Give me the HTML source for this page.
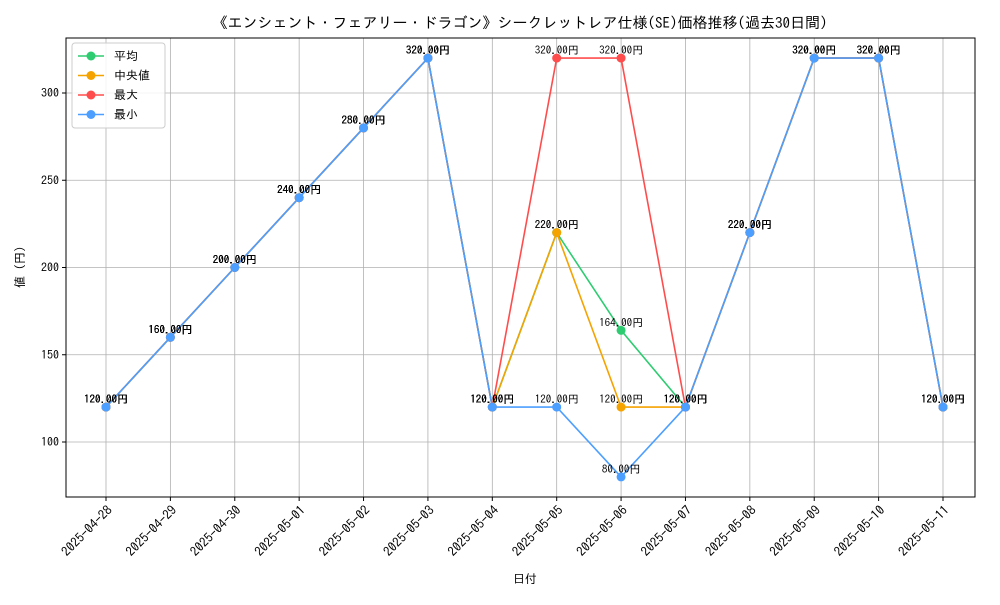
<!DOCTYPE html>
<html><head><meta charset="utf-8"><style>
body{margin:0;background:#fff}
svg text{font-family:"IPAGothic","Liberation Sans","Noto Sans CJK JP",sans-serif}
</style></head><body>
<svg id="chart" width="1000" height="600" xmlns="http://www.w3.org/2000/svg">
<rect width="1000" height="600" fill="#fff"/>
<text x="520" y="28" text-anchor="middle" font-size="15">《エンシェント・フェアリー・ドラゴン》シークレットレア仕様(SE)価格推移(過去30日間)</text>
<g id="grid"></g>
<g id="axes"></g>
<g id="series"></g>
<g id="labels"></g>
<rect x="66" y="38" width="909" height="459" fill="none" stroke="#000" stroke-width="1"/>
<text x="525" y="583" text-anchor="middle" font-size="12">日付</text>
<text transform="translate(24,267) rotate(-90)" text-anchor="middle" font-size="12">値 (円)</text>
<g id="legend"></g>
</svg>
<script>
const dates=["2025-04-28","2025-04-29","2025-04-30","2025-05-01","2025-05-02","2025-05-03","2025-05-04","2025-05-05","2025-05-06","2025-05-07","2025-05-08","2025-05-09","2025-05-10","2025-05-11"];
const avgVals=[120,160,200,240,280,320,120,220,164,120,220,320,320,120];
const medianVals=[120,160,200,240,280,320,120,220,120,120,220,320,320,120];
const maxVals=[120,160,200,240,280,320,120,320,320,120,220,320,320,120];
const minVals=[120,160,200,240,280,320,120,120,80,120,220,320,320,120];
const yTicks=[100,150,200,250,300];
const seriesNames=["平均","中央値","最大","最小"];
const NS="http://www.w3.org/2000/svg";
const L=66,R=975,T=38,B=497;
const x=i=>106+i*(943-106)/(dates.length-1);
const y=v=>442+(v-100)*(93-442)/200;
function mk(tag,attrs,parent){const e=document.createElementNS(NS,tag);for(const k in attrs)e.setAttribute(k,attrs[k]);parent.appendChild(e);return e;}
const grid=document.getElementById('grid'),axes=document.getElementById('axes');
dates.forEach((d,i)=>{
  const g=mk('line',{x1:x(i),x2:x(i),y1:T,y2:B,stroke:'#b0b0b0','stroke-width':0.8},grid);
  
  
  const tk=mk('line',{x1:x(i),x2:x(i),y1:B,y2:B+4,stroke:'#000'},axes);
  
  
  const t=mk('text',{x:0,y:0,'font-size':13,'text-anchor':'end',transform:`translate(${x(i)+7},${B+14}) rotate(-45)`},axes);
  t.textContent=d;
  
  
});
yTicks.forEach(v=>{
  const g=mk('line',{x1:L,x2:R,y1:y(v),y2:y(v),stroke:'#b0b0b0','stroke-width':0.8},grid);
  
  
  const tk=mk('line',{x1:L-4,x2:L,y1:y(v),y2:y(v),stroke:'#000'},axes);
  
  
  const t=mk('text',{x:L-7,y:y(v)+4,'font-size':12,'text-anchor':'end'},axes);
  t.textContent=v;
  
  
});
const all=[avgVals,medianVals,maxVals,minVals];
const colors=["#2ecc71","#f5a300","#ff4d4d","#4d9fff"];
const keys=["avg","median","max","min"];
const sg=document.getElementById('series'),lg=document.getElementById('labels');
all.forEach((vals,s)=>{
  const p=mk('polyline',{points:vals.map((v,i)=>x(i)+','+y(v)).join(' '),fill:'none',stroke:colors[s],'stroke-width':1.6},sg);
  
  
  vals.forEach((v,i)=>{
    const c=mk('circle',{cx:x(i),cy:y(v),r:4.5,fill:colors[s]},sg);
    
    
    const t=mk('text',{x:x(i),y:y(v)-4,'font-size':11,'text-anchor':'middle',fill:'#000'},lg);
    t.textContent=v.toFixed(2)+'円';
    
    
  });
});
const leg=document.getElementById('legend');
mk('rect',{x:72,y:43,width:93,height:85,rx:3,fill:'#fff','fill-opacity':0.85,stroke:'#ccc'},leg);
seriesNames.forEach((n,s)=>{
  const yy=56+s*19.5;
  const l=mk('line',{x1:78,x2:104,y1:yy,y2:yy,stroke:colors[s],'stroke-width':1.6},leg);
  
  
  mk('circle',{cx:91,cy:yy,r:4.5,fill:colors[s]},leg);
  const t=mk('text',{x:114,y:yy+4,'font-size':12},leg);
  t.textContent=n;
  
  
});
</script>
</body></html>
